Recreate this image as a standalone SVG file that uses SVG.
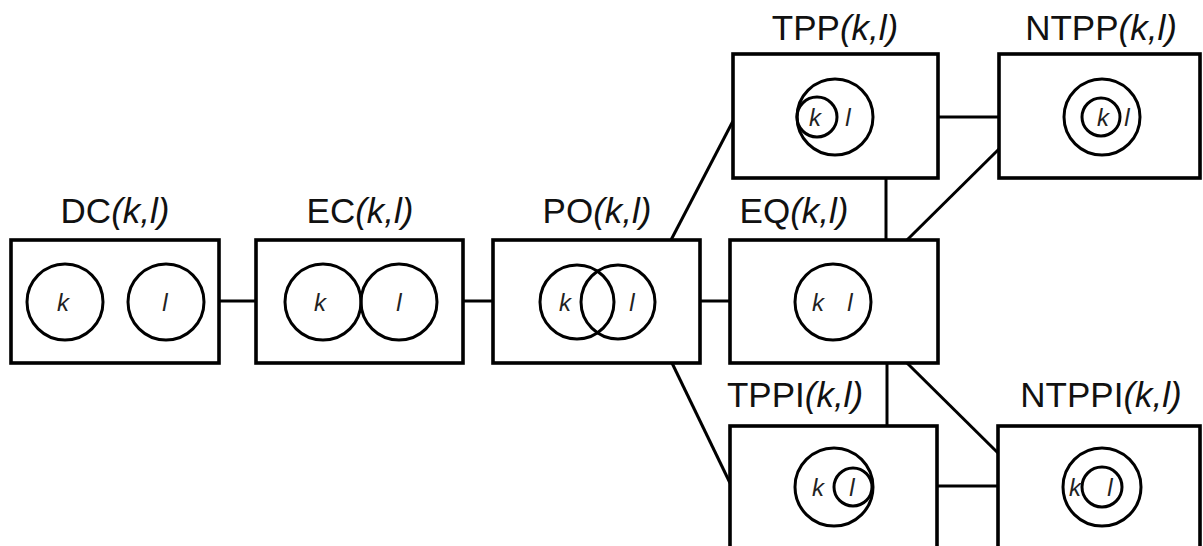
<svg xmlns="http://www.w3.org/2000/svg" width="1203" height="546" viewBox="0 0 1203 546">
<style>
.box{fill:#fff;stroke:#000;stroke-width:3.6}
.c{fill:none;stroke:#000;stroke-width:3}
.t{font-family:"Liberation Sans",Arial,sans-serif;font-size:35px;fill:#111;text-anchor:middle}
.i{font-style:italic}
.l{font-family:"Liberation Sans",Arial,sans-serif;font-size:24px;font-style:italic;fill:#222;text-anchor:middle}
#connectors line{stroke:#000;stroke-width:3}
</style>
<rect width="1203" height="546" fill="#fff"/>
<g id="connectors">
<line x1="219" y1="301" x2="256" y2="301"/>
<line x1="463" y1="301" x2="493" y2="301"/>
<line x1="700" y1="301" x2="730" y2="301"/>
<line x1="671" y1="240" x2="733" y2="121"/>
<line x1="672" y1="363" x2="730" y2="483"/>
<line x1="938" y1="117" x2="999" y2="117"/>
<line x1="886" y1="178" x2="886" y2="240"/>
<line x1="999" y1="149" x2="907" y2="240"/>
<line x1="887" y1="363" x2="887" y2="426"/>
<line x1="907" y1="363" x2="998" y2="453"/>
<line x1="937" y1="486" x2="998" y2="486"/>
</g>
<g id="DC">
<text class="t" x="115" y="223">DC<tspan class="i">(k,l)</tspan></text>
<rect class="box" x="11" y="240" width="208" height="123"/>
<circle class="c" cx="65" cy="302" r="38"/>
<circle class="c" cx="166" cy="302" r="38"/>
<text class="l" x="63" y="311">k</text>
<text class="l" x="165" y="311">l</text>
</g>
<g id="EC">
<text class="t" x="360" y="223">EC<tspan class="i">(k,l)</tspan></text>
<rect class="box" x="256" y="240" width="207" height="123"/>
<circle class="c" cx="323" cy="302" r="38"/>
<circle class="c" cx="399" cy="302" r="38"/>
<text class="l" x="320" y="311">k</text>
<text class="l" x="399" y="311">l</text>
</g>
<g id="PO">
<text class="t" x="597" y="223">PO<tspan class="i">(k,l)</tspan></text>
<rect class="box" x="493" y="240" width="207" height="123"/>
<circle class="c" cx="577" cy="302" r="37"/>
<circle class="c" cx="618" cy="302" r="37"/>
<text class="l" x="565" y="311">k</text>
<text class="l" x="632" y="311">l</text>
</g>
<g id="EQ">
<text class="t" x="794" y="223">EQ<tspan class="i">(k,l)</tspan></text>
<rect class="box" x="730" y="240" width="208" height="123"/>
<circle class="c" cx="833" cy="302" r="38"/>
<text class="l" x="818" y="311">k</text>
<text class="l" x="850" y="311">l</text>
</g>
<g id="TPP">
<text class="t" x="835" y="40">TPP<tspan class="i">(k,l)</tspan></text>
<rect class="box" x="733" y="54" width="205" height="124"/>
<circle class="c" cx="835" cy="117" r="38"/>
<circle class="c" cx="817" cy="117" r="20"/>
<text class="l" x="815" y="126">k</text>
<text class="l" x="848" y="126">l</text>
</g>
<g id="NTPP">
<text class="t" x="1101" y="40">NTPP<tspan class="i">(k,l)</tspan></text>
<rect class="box" x="999" y="54" width="201" height="124"/>
<circle class="c" cx="1102" cy="117" r="38"/>
<circle class="c" cx="1101" cy="117" r="19"/>
<text class="l" x="1103" y="126">k</text>
<text class="l" x="1127" y="126">l</text>
</g>
<g id="TPPI">
<text class="t" x="795" y="407">TPPI<tspan class="i">(k,l)</tspan></text>
<rect class="box" x="730" y="426" width="207" height="130"/>
<circle class="c" cx="834" cy="487" r="39"/>
<circle class="c" cx="853" cy="487" r="19"/>
<text class="l" x="818" y="496">k</text>
<text class="l" x="852" y="496">l</text>
</g>
<g id="NTPPI">
<text class="t" x="1101" y="407">NTPPI<tspan class="i">(k,l)</tspan></text>
<rect class="box" x="998" y="426" width="202" height="130"/>
<circle class="c" cx="1102" cy="487" r="39"/>
<circle class="c" cx="1102" cy="487" r="20"/>
<text class="l" x="1075" y="496">k</text>
<text class="l" x="1110" y="496">l</text>
</g>
</svg>
